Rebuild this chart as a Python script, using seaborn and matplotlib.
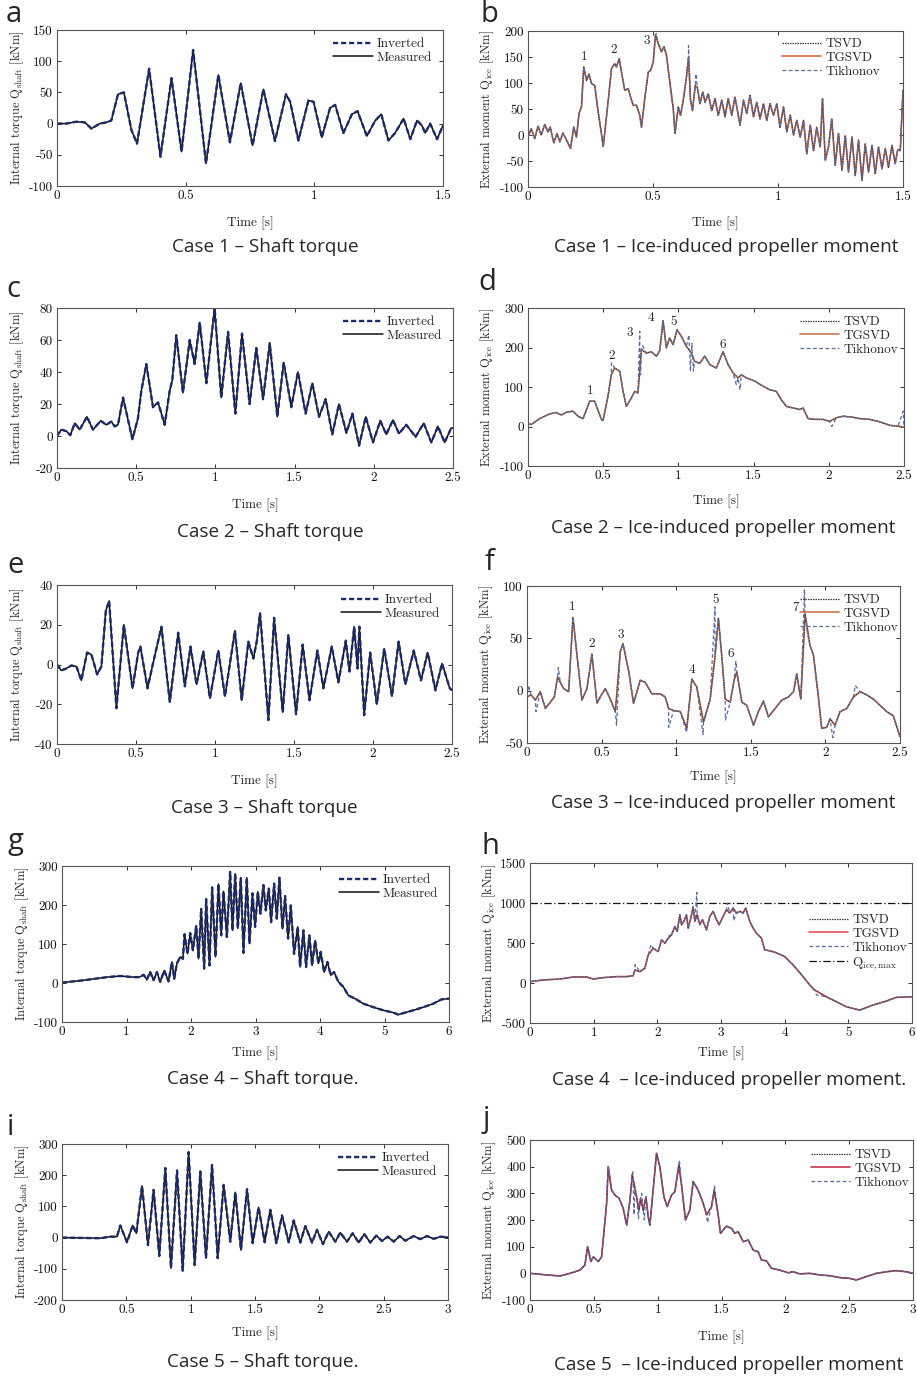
import matplotlib
matplotlib.use("Agg")
import matplotlib.pyplot as plt
from matplotlib.ticker import FuncFormatter, MultipleLocator
import seaborn as sns
import pandas as pd

# ---- data (time in s, values in kNm) ----
a_time = [0, 0.036, 0.075, 0.108, 0.134, 0.166, 0.192, 0.211, 0.237, 0.26, 0.289, 0.311, 0.358, 0.402, 0.445,
          0.484, 0.529, 0.579, 0.627, 0.672, 0.714, 0.76, 0.802, 0.847, 0.89, 0.906, 0.938, 0.977, 0.997, 1.029,
          1.061, 1.081, 1.113, 1.146, 1.168, 1.204, 1.237, 1.26, 1.288, 1.314, 1.347, 1.373, 1.399, 1.418, 1.431,
          1.45, 1.477, 1.5]
a_torque = [0, 0, 3, 2, -8, 0, 2, 5, 47, 50, -10, -32, 88, -53, 73, -45, 118, -64, 78, -30, 65, -35, 55, -28, 47,
            35, -27, 37, 35, -22, 25, 30, -15, 15, 20, -20, 5, 15, -27, -15, 8, -25, 5, -3, -15, 0, -25, -3]

b_time = [0, 0.013, 0.027, 0.040, 0.053, 0.067, 0.080, 0.089, 0.103, 0.116, 0.127, 0.140, 0.154, 0.170, 0.183,
          0.194, 0.204, 0.214, 0.223, 0.234, 0.244, 0.254, 0.267, 0.280, 0.301, 0.321, 0.334, 0.347, 0.354, 0.365,
          0.374, 0.387, 0.401, 0.414, 0.421, 0.434, 0.447, 0.454, 0.467, 0.481, 0.490, 0.501, 0.510, 0.521, 0.534,
          0.544, 0.554, 0.568, 0.581, 0.588, 0.601, 0.610, 0.621, 0.634, 0.642, 0.650, 0.658, 0.669, 0.677, 0.688,
          0.699, 0.708, 0.721, 0.735, 0.748, 0.761, 0.775, 0.788, 0.801, 0.815, 0.828, 0.848, 0.862, 0.875, 0.888,
          0.902, 0.915, 0.928, 0.942, 0.955, 0.968, 0.982, 0.995, 1.008, 1.022, 1.035, 1.049, 1.062, 1.075, 1.089,
          1.102, 1.115, 1.129, 1.142, 1.155, 1.169, 1.178, 1.189, 1.202, 1.215, 1.229, 1.242, 1.256, 1.269, 1.282,
          1.296, 1.309, 1.322, 1.336, 1.349, 1.362, 1.376, 1.389, 1.402, 1.416, 1.429, 1.442, 1.456, 1.469, 1.479,
          1.489, 1.5]
b_moment = [-4, 12, -7, 17, 0, 20, 6, 15, -15, 3, -13, 4, -10, -26, 15, -4, 41, 55, 131, 105, 117, 99, 95, 47, -22,
            67, 128, 137, 131, 147, 121, 86, 89, 67, 57, 57, 38, 15, 70, 121, 124, 140, 193, 176, 160, 170, 153, 99,
            51, 3, 54, 38, 67, 112, 150, 67, 47, 95, 92, 60, 83, 63, 79, 47, 70, 38, 67, 35, 70, 38, 73, 19, 67, 41,
            76, 35, 63, 31, 60, 28, 60, 38, 60, 15, 54, 6, 38, 0, 28, -4, 28, -36, 19, -30, 15, -23, 70, -49, -23,
            31, -58, 3, -68, -1, -71, -4, -78, -10, -87, -17, -71, -20, -74, -23, -65, -26, -62, -20, -55, -28, -30,
            86]
b_tik_time = [0.513, 0.642, 0.672, 1.178]
b_tik_moment = [195, 172, 118, 72]

c_time = [0, 0.027, 0.059, 0.084, 0.112, 0.143, 0.189, 0.227, 0.276, 0.311, 0.343, 0.364, 0.385, 0.417, 0.476,
          0.511, 0.532, 0.564, 0.606, 0.638, 0.680, 0.711, 0.728, 0.753, 0.795, 0.838, 0.869, 0.901, 0.943, 0.995,
          1.037, 1.080, 1.126, 1.168, 1.216, 1.258, 1.301, 1.343, 1.391, 1.431, 1.479, 1.521, 1.570, 1.612, 1.654,
          1.696, 1.738, 1.780, 1.827, 1.865, 1.907, 1.949, 1.995, 2.041, 2.079, 2.121, 2.159, 2.205, 2.264, 2.315,
          2.363, 2.405, 2.447, 2.489, 2.5]
c_torque = [0, 4, 3, 0.5, 8, 4, 12, 4, 9.5, 7, 9, 6, 7, 24, -2, 11, 28, 45, 18, 21, 7, 28, 35, 63, 27, 60, 45, 71,
            33, 80, 24, 65, 14, 64, 20, 55, 23, 58, 12, 46, 18, 40, 14, 33, 12, 23, 1, 20, 2, 14, -6, 12, -4, 9.5,
            1, 10, 1.5, 7, -0.5, 8, -4, 6, -4, 5, 5]

d_time = [0, 0.022, 0.078, 0.144, 0.188, 0.222, 0.255, 0.299, 0.332, 0.366, 0.410, 0.443, 0.488, 0.499, 0.532,
          0.554, 0.576, 0.610, 0.632, 0.654, 0.687, 0.709, 0.731, 0.743, 0.754, 0.787, 0.820, 0.854, 0.876, 0.898,
          0.920, 0.942, 0.965, 0.991, 1.020, 1.053, 1.086, 1.108, 1.142, 1.175, 1.208, 1.252, 1.297, 1.330, 1.363,
          1.396, 1.418, 1.452, 1.507, 1.563, 1.607, 1.651, 1.684, 1.718, 1.762, 1.806, 1.829, 1.862, 1.917, 1.961,
          2.006, 2.050, 2.094, 2.150, 2.205, 2.272, 2.338, 2.405, 2.460, 2.5]
d_moment = [7, 5, 20, 32, 35, 29, 36, 39, 26, 20, 64, 64, 18, 15, 77, 131, 148, 140, 89, 51, 72, 89, 85, 140, 195,
            186, 189, 178, 192, 268, 199, 224, 207, 245, 228, 203, 186, 165, 160, 178, 157, 148, 189, 157, 136, 123,
            131, 123, 115, 102, 93, 89, 68, 51, 47, 43, 47, 20, 18, 18, 13, 22, 26, 24, 20, 18, 12, 3, 1, -2]
d_tik_time = [0.555, 0.743, 0.749, 0.762, 1.070, 1.080, 1.090, 1.100, 1.385, 1.41, 2.02, 2.495]
d_tik_moment = [161, 241, 131, 205, 232, 140, 210, 140, 106, 93, 0, 39]

e_time = [0, 0.027, 0.059, 0.091, 0.123, 0.154, 0.190, 0.218, 0.254, 0.281, 0.309, 0.330, 0.376, 0.423, 0.478,
          0.514, 0.528, 0.545, 0.573, 0.609, 0.661, 0.714, 0.767, 0.809, 0.845, 0.883, 0.926, 0.968, 1.021, 1.063,
          1.126, 1.169, 1.211, 1.243, 1.264, 1.285, 1.338, 1.374, 1.429, 1.464, 1.513, 1.555, 1.598, 1.648, 1.686,
          1.739, 1.781, 1.828, 1.851, 1.881, 1.902, 1.914, 1.944, 1.982, 2.024, 2.071, 2.120, 2.162, 2.205, 2.258,
          2.304, 2.346, 2.395, 2.437, 2.486, 2.5]
e_torque = [0, -3, -2, -0.5, -1, -8, 6, 5, -5, -1, 27, 32, -22, 20, -12, 6, 9, 1, -12, 1, 19, -19, 16, -11, 9, -10,
            6.5, -17, 7, -16, 17, -18, 11.5, 3, 11.5, 26, -28, 23.5, -24, 15, -25, 10, -18, 7, -12, 9, -9, 12, -3.5,
            19, -2, 19, -25.5, 6, -20, 8, -16, 11.5, -10, 7, -8, 6, -13, 0.5, -12, -13]

f_time = [0, 0.027, 0.056, 0.089, 0.123, 0.156, 0.183, 0.205, 0.223, 0.246, 0.279, 0.308, 0.335, 0.368, 0.402,
          0.435, 0.469, 0.491, 0.525, 0.558, 0.592, 0.625, 0.643, 0.681, 0.714, 0.759, 0.792, 0.837, 0.893, 0.926,
          0.949, 0.982, 1.027, 1.071, 1.105, 1.138, 1.183, 1.228, 1.261, 1.283, 1.306, 1.328, 1.362, 1.388, 1.406,
          1.440, 1.473, 1.518, 1.551, 1.585, 1.618, 1.663, 1.708, 1.752, 1.786, 1.808, 1.835, 1.864, 1.897, 1.920,
          1.953, 1.975, 2.009, 2.031, 2.065, 2.098, 2.143, 2.188, 2.232, 2.277, 2.321, 2.366, 2.411, 2.455, 2.5]
f_moment = [-6, -4, -9, -1, -17, -11, -6, 13, 8, 2, -1, 70, 34, -9, 2, 35, -12, -6, 2, -8, -20, 37, 45, 19, -12, 10,
            8, -3, -3, -6, -17, -19, -20, -36, 11, 3.5, -30, -8, 34, 69, 32, -8, -11, 10, 18, -11, -14, -33, -20,
            -10, -25, -17, -9, -6, -1, 16, -8, 73, 43, 34, -6, -36, -35, -27, -33, -20, -17, -6, -1, -4, -8, -14,
            -20, -24, -44]
f_tik_time = [0.01, 0.06, 0.21, 0.6, 0.95, 1.07, 1.18, 1.26, 1.33, 1.40, 1.86, 1.88, 2.05, 2.2]
f_tik_moment = [5, -20, 22, -33, -35, -40, -42, 80, -28, 28, 97, 55, -45, 5]

g_time = [0, 0.336, 0.697, 0.903, 1.110, 1.198, 1.265, 1.316, 1.368, 1.420, 1.471, 1.523, 1.585, 1.652, 1.704,
          1.740, 1.781, 1.833, 1.874, 1.900, 1.946, 1.988, 2.029, 2.081, 2.117, 2.158, 2.204, 2.235, 2.287, 2.328,
          2.380, 2.426, 2.468, 2.504, 2.556, 2.607, 2.643, 2.685, 2.726, 2.772, 2.814, 2.865, 2.907, 2.953, 2.994,
          3.036, 3.077, 3.123, 3.160, 3.206, 3.242, 3.289, 3.330, 3.371, 3.418, 3.459, 3.505, 3.547, 3.598, 3.655,
          3.691, 3.743, 3.784, 3.836, 3.877, 3.924, 3.975, 4.011, 4.063, 4.115, 4.166, 4.218, 4.285, 4.362, 4.440,
          4.543, 4.672, 4.827, 4.982, 5.137, 5.214, 5.318, 5.447, 5.602, 5.756, 5.885, 6.0]
g_torque = [1, 7, 15, 18, 15, 15, 21, 9, 28, 7, 28, 3, 32, 4, 54, 11, 50, 67, 62, 125, 75, 128, 84, 147, 62, 190,
            37, 215, 45, 245, 67, 254, 122, 235, 118, 285, 135, 280, 140, 269, 77, 270, 101, 230, 144, 234, 178,
            251, 186, 242, 156, 255, 165, 270, 139, 223, 114, 199, 75, 144, 41, 135, 41, 122, 45, 109, 50, 80, 28,
            54, 20, 28, 3, -10, -32, -40, -53, -62, -70, -76, -81, -76, -70, -62, -53, -42, -40]

h_time = [0, 0.209, 0.471, 0.680, 0.889, 0.994, 1.151, 1.360, 1.517, 1.621, 1.647, 1.726, 1.804, 1.857, 1.935,
          2.014, 2.066, 2.118, 2.171, 2.223, 2.275, 2.312, 2.354, 2.380, 2.416, 2.458, 2.484, 2.526, 2.563, 2.589,
          2.626, 2.667, 2.709, 2.772, 2.824, 2.877, 2.929, 2.971, 3.033, 3.086, 3.138, 3.190, 3.243, 3.295, 3.347,
          3.389, 3.452, 3.504, 3.556, 3.635, 3.687, 3.766, 3.844, 3.923, 4.001, 4.132, 4.289, 4.393, 4.472, 4.655,
          4.812, 4.969, 5.178, 5.387, 5.596, 5.753, 6.0]
h_moment = [17, 38, 50, 75, 75, 50, 67, 80, 80, 92, 163, 142, 184, 351, 435, 393, 540, 498, 560, 602, 707, 644, 853,
            728, 770, 853, 686, 812, 950, 770, 853, 728, 791, 665, 833, 895, 791, 728, 833, 916, 874, 937, 874, 895,
            874, 937, 770, 686, 623, 560, 414, 402, 385, 360, 330, 226, 80, -25, -88, -172, -234, -297, -339, -276,
            -226, -180, -172]
h_tik_time = [1.65, 1.9, 2.2, 2.62, 3.1, 3.2, 4.45, 4.5]
h_tik_moment = [230, 480, 620, 1130, 1000, 780, -80, -150]
h_qice_max = 1000

i_time = [0, 0.298, 0.376, 0.427, 0.453, 0.505, 0.549, 0.578, 0.622, 0.668, 0.712, 0.756, 0.803, 0.847, 0.894,
          0.938, 0.984, 1.031, 1.075, 1.119, 1.166, 1.210, 1.256, 1.308, 1.347, 1.391, 1.438, 1.482, 1.528, 1.575,
          1.619, 1.666, 1.710, 1.762, 1.801, 1.852, 1.891, 1.943, 1.982, 2.028, 2.073, 2.124, 2.163, 2.215, 2.259,
          2.306, 2.350, 2.396, 2.443, 2.487, 2.531, 2.578, 2.624, 2.668, 2.733, 2.785, 2.837, 2.889, 2.940, 3.0]
i_torque = [0, -2, 3, 3, 39, -15, 39, 14, 166, -24, 153, -59, 223, -98, 215, -106, 274, -88, 212, -66, 233, -66,
            169, -13, 145, -40, 155, -18, 97, -15, 89, -18, 71, -15, 55, -16, 37, -16, 25, -21, 19, -13, 16, -13,
            14, -16, 11, -16, 6.5, -11, 3, -13, 5, -10, 5, -5, 5, -4, 3, 1]

j_time = [0, 0.130, 0.235, 0.313, 0.391, 0.430, 0.451, 0.477, 0.496, 0.535, 0.561, 0.600, 0.613, 0.639, 0.665,
          0.699, 0.730, 0.757, 0.783, 0.801, 0.822, 0.835, 0.853, 0.866, 0.887, 0.908, 0.926, 0.939, 0.991, 1.017,
          1.049, 1.075, 1.109, 1.135, 1.166, 1.187, 1.218, 1.252, 1.278, 1.317, 1.357, 1.383, 1.422, 1.443, 1.474,
          1.492, 1.539, 1.578, 1.604, 1.631, 1.670, 1.709, 1.748, 1.787, 1.813, 1.852, 1.891, 1.957, 2.022, 2.061,
          2.113, 2.192, 2.270, 2.348, 2.426, 2.505, 2.557, 2.635, 2.713, 2.792, 2.870, 2.948, 3.0]
j_moment = [0, -6, -10, 0, 12, 31, 100, 44, 62, 44, 62, 262, 400, 312, 294, 281, 244, 181, 275, 369, 319, 287, 237,
            281, 237, 287, 212, 181, 450, 400, 287, 250, 294, 306, 406, 331, 200, 237, 344, 312, 262, 219, 250, 312,
            219, 150, 177, 169, 150, 156, 119, 125, 87, 81, 50, 47, 19, 12, 2, 6, -2, 0, -6, -9, -16, -19, -25, -12,
            0, 6, 10, 6, 0]
j_tik_time = [0.805, 0.815, 0.83, 0.85, 0.875, 0.895, 1.17, 1.39, 1.445]
j_tik_moment = [385, 220, 290, 205, 300, 200, 425, 190, 330]

# ---- figure setup ----
W, H = 917, 1376
sns.set_style("ticks")
plt.rcParams["font.family"] = ["cmr10", "DejaVu Serif"]
plt.rcParams["mathtext.fontset"] = "cm"
plt.rcParams["axes.unicode_minus"] = False

fig = plt.figure(figsize=(W / 100, H / 100), dpi=100)

TORQUE_LABEL = r"Internal torque Q$_{\mathrm{shaft}}$ [kNm]"
MOMENT_LABEL = r"External moment Q$_{\mathrm{ice}}$ [kNm]"
CAPTION_FONT = "Open Sans"
TXT = 9.5
fmt = FuncFormatter(lambda v, p: f"{v:g}")


def add_axes(box):
    l, t, r, b = box
    return fig.add_axes([l / W, 1 - b / H, (r - l) / W, (b - t) / H])


def style_axes(ax, box, xmax, xstep, ylim, ystep, ylabel, xgap, ygap):
    l, t, r, b = box
    w, h = r - l, b - t
    ax.set_xlim(0, xmax)
    ax.set_ylim(*ylim)
    ax.xaxis.set_major_locator(MultipleLocator(xstep))
    ax.yaxis.set_major_locator(MultipleLocator(ystep))
    ax.xaxis.set_major_formatter(fmt)
    ax.yaxis.set_major_formatter(fmt)
    ax.tick_params(direction="in", top=True, right=True, length=3, width=0.6,
                   labelsize=TXT, pad=3, colors="#111111")
    for s in ax.spines.values():
        s.set_color("#555555")
        s.set_linewidth(0.8)
    ax.set_xlabel("Time [s]", fontsize=TXT)
    ax.xaxis.set_label_coords(0.5, -xgap / h)
    ax.xaxis.label.set_va("center")
    ax.set_ylabel(ylabel, fontsize=9)
    ax.yaxis.set_label_coords(-ygap / w, 0.5)
    ax.yaxis.label.set_va("center")


def add_legend(ax, box, corner, handles, labels):
    l, t, r, b = box
    ax.legend(handles, labels, loc="upper right",
              bbox_to_anchor=((corner[0] - l) / (r - l), 1 - (corner[1] - t) / (b - t)),
              frameon=False, fontsize=TXT, handlelength=3.0, handletextpad=0.3,
              labelspacing=0.12, borderpad=0, borderaxespad=0)


def torque_panel(box, time, torque, xmax, xstep, ylim, ystep, xgap, corner):
    ax = add_axes(box)
    sns.lineplot(x=time, y=torque, ax=ax, color="#111111", lw=1.1, label="Measured",
                 estimator=None, sort=False)
    sns.lineplot(x=time, y=torque, ax=ax, color="#1d2b6b", lw=1.7, linestyle=(0, (2.2, 1.2)),
                 label="Inverted", estimator=None, sort=False)
    style_axes(ax, box, xmax, xstep, ylim, ystep, TORQUE_LABEL, xgap, 40)
    h, lab = ax.get_legend_handles_labels()
    add_legend(ax, box, corner, h[::-1], lab[::-1])
    return ax


def moment_panel(box, time, moment, tik_time, tik_moment, tg_color, xmax, xstep, ylim, ystep, xgap, corner):
    ax = add_axes(box)
    base = pd.DataFrame({"t": time, "m": moment})
    tik = pd.concat([base, pd.DataFrame({"t": tik_time, "m": tik_moment})]).sort_values("t")
    # TGSVD underneath so the dark TSVD / Tikhonov traces sit on top
    sns.lineplot(x=base["t"], y=base["m"], ax=ax, color=tg_color, lw=1.2, label="TGSVD",
                 estimator=None, sort=False, zorder=2)
    sns.lineplot(x=base["t"], y=base["m"], ax=ax, color="#3a3a3a", lw=0.9, linestyle=(0, (1.2, 0.8)),
                 label="TSVD", estimator=None, sort=False, zorder=3)
    sns.lineplot(x=tik["t"], y=tik["m"], ax=ax, color="#5a6c9e", lw=0.9, linestyle=(0, (3, 2)),
                 label="Tikhonov", estimator=None, sort=False, zorder=4)
    style_axes(ax, box, xmax, xstep, ylim, ystep, MOMENT_LABEL, xgap, 41)
    h, lab = ax.get_legend_handles_labels()
    order = [lab.index(n) for n in ["TSVD", "TGSVD", "Tikhonov"]]
    add_legend(ax, box, corner, [h[k] for k in order], [lab[k] for k in order])
    return ax


def label_peaks(ax, marks):
    for txt, x, y in marks:
        ax.text(x, y, txt, ha="center", va="center", fontsize=TXT)


# ---- panels ----
torque_panel((57, 30, 443, 186), a_time, a_torque, 1.5, 0.5, (-100, 150), 50, 37, (432, 38))
ax_b = moment_panel((528, 31, 903, 187), b_time, b_moment, b_tik_time, b_tik_moment, "#e2683f",
                    1.5, 0.5, (-100, 200), 50, 36, (880, 38))
label_peaks(ax_b, [("1", 0.223, 150), ("2", 0.343, 164), ("3", 0.474, 181)])

torque_panel((57, 308, 453, 468), c_time, c_torque, 2.5, 0.5, (-20, 80), 20, 37, (442, 316))
ax_d = moment_panel((528, 308, 904, 466), d_time, d_moment, d_tik_time, d_tik_moment, "#d07a52",
                    2.5, 0.5, (-100, 300), 100, 35, (898, 316))
label_peaks(ax_d, [("1", 0.41, 89), ("2", 0.554, 178), ("3", 0.68, 237), ("4", 0.82, 276),
                   ("5", 0.97, 264), ("6", 1.292, 207)])

torque_panel((57, 585, 452, 744), e_time, e_torque, 2.5, 0.5, (-40, 40), 20, 37, (440, 594))
ax_f = moment_panel((527, 586, 900, 743), f_time, f_moment, f_tik_time, f_tik_moment, "#d8704c",
                    2.5, 0.5, (-50, 100), 50, 34, (898, 594))
label_peaks(ax_f, [("1", 0.301, 80), ("2", 0.435, 45), ("3", 0.632, 53.5), ("4", 1.105, 20),
                   ("5", 1.261, 87), ("6", 1.366, 35), ("7", 1.797, 79)])

torque_panel((62, 866, 449, 1022), g_time, g_torque, 6, 1, (-100, 300), 100, 31, (438, 874))
h_box = (530, 863, 912, 1023)
ax_h = moment_panel(h_box, h_time, h_moment, h_tik_time, h_tik_moment, "#e8505a",
                    6, 1, (-500, 1500), 500, 30, (907, 914))
ax_h.axhline(h_qice_max, color="#111111", lw=0.9, linestyle=(0, (6, 2, 1, 2)),
             label=r"Q$_{\mathrm{ice,max}}$")
hh, hl = ax_h.get_legend_handles_labels()
h_order = [hl.index(n) for n in ["TSVD", "TGSVD", "Tikhonov"]] + [len(hl) - 1]
add_legend(ax_h, h_box, (907, 914), [hh[k] for k in h_order], [hl[k] for k in h_order])

torque_panel((62, 1144, 448, 1300), i_time, i_torque, 3, 0.5, (-200, 300), 100, 33, (437, 1152))
moment_panel((530, 1140, 913, 1300), j_time, j_moment, j_tik_time, j_tik_moment, "#d6304f",
             3, 0.5, (-100, 500), 100, 37, (909, 1149))

# ---- captions and panel letters ----
captions = [
    ("Case 1 \u2013 Shaft torque", 265, 247),
    ("Case 1 \u2013 Ice-induced propeller moment", 726, 247),
    ("Case 2 \u2013 Shaft torque", 270, 532),
    ("Case 2 \u2013 Ice-induced propeller moment", 723, 528),
    ("Case 3 \u2013 Shaft torque", 264, 808),
    ("Case 3 \u2013 Ice-induced propeller moment", 723, 803),
    ("Case 4 \u2013 Shaft torque.", 263, 1079),
    ("Case 4  \u2013 Ice-induced propeller moment.", 729, 1080),
    ("Case 5 \u2013 Shaft torque.", 263, 1362),
    ("Case 5  \u2013 Ice-induced propeller moment", 729, 1365),
]
for txt, x, y in captions:
    fig.text(x / W, 1 - y / H, txt, ha="center", va="center", fontsize=13.6, family=CAPTION_FONT)

letters = [("a", 6, 22), ("b", 480, 22), ("c", 6, 297), ("d", 478, 290), ("e", 7, 573),
           ("f", 485, 570), ("g", 7, 849), ("h", 482, 854), ("i", 7, 1135), ("j", 483, 1127)]
for txt, x, y in letters:
    fig.text(x / W, 1 - y / H, txt, ha="left", va="baseline", fontsize=21, family=CAPTION_FONT)

fig.savefig("out.png", dpi=100)
